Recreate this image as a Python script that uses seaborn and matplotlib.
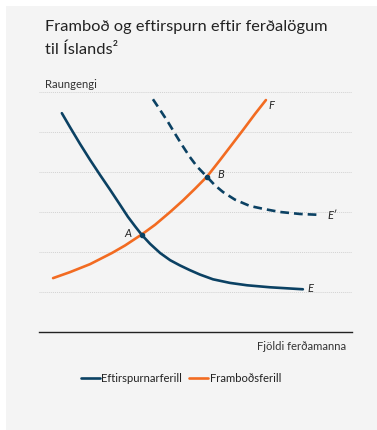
import matplotlib
matplotlib.use("Agg")
import matplotlib.pyplot as plt
from matplotlib.patches import Rectangle
from matplotlib.lines import Line2D
import seaborn as sns
import pandas as pd

demand_x = [0.73, 0.99, 1.31, 1.63, 1.95, 2.27, 2.59, 2.84, 3.07, 3.29, 3.55, 3.87,
            4.19, 4.50, 4.82, 5.14, 5.56, 6.10, 6.65, 7.38, 8.43]
demand_y = [5.48, 5.13, 4.71, 4.31, 3.93, 3.56, 3.18, 2.88, 2.64, 2.42, 2.20, 1.97,
            1.79, 1.66, 1.54, 1.43, 1.31, 1.22, 1.16, 1.11, 1.06]

supply_x = [0.45, 0.99, 1.63, 2.33, 2.75, 3.29, 3.71, 4.19, 4.60, 4.98, 5.37, 5.78,
            6.17, 6.52, 6.90, 7.25]
supply_y = [1.34, 1.49, 1.69, 1.97, 2.16, 2.44, 2.68, 3.00, 3.29, 3.58, 3.89, 4.30,
            4.70, 5.06, 5.46, 5.81]

shifted_x = [3.64, 3.87, 4.12, 4.35, 4.57, 4.82, 5.05, 5.37, 5.62, 5.88, 6.26, 6.74,
             7.22, 7.70, 8.34, 8.91]
shifted_y = [5.83, 5.56, 5.26, 4.96, 4.68, 4.38, 4.14, 3.88, 3.67, 3.50, 3.31, 3.15,
             3.07, 3.00, 2.95, 2.93]

point_labels = ["A", "B", "F", "E", "E\u2032"]
label_x = [2.94, 5.69, 7.32, 8.59, 9.20]
label_y = [2.45, 3.93, 5.68, 1.09, 2.90]

navy = "#0B4163"
orange = "#F26B21"

sns.set_style("white")
plt.rcParams["font.family"] = ["Lato", "DejaVu Sans"]

fig = plt.figure(figsize=(3.77, 4.30), dpi=100)
fig.patch.set_facecolor("white")
fig.add_artist(Rectangle((6 / 377, 0), 1, 1 - 6 / 430, transform=fig.transFigure,
                         facecolor="#F4F4F4", edgecolor="none", zorder=0))

ax = fig.add_axes([39 / 377, 98.5 / 430, 313 / 377, 247 / 430])
ax.set_facecolor("none")

demand = pd.DataFrame({"x": demand_x, "y": demand_y})
supply = pd.DataFrame({"x": supply_x, "y": supply_y})
shifted = pd.DataFrame({"x": shifted_x, "y": shifted_y})

sns.lineplot(data=demand, x="x", y="y", ax=ax, color=navy, linewidth=1.9, sort=False)
sns.lineplot(data=supply, x="x", y="y", ax=ax, color=orange, linewidth=1.9, sort=False)
sns.lineplot(data=shifted, x="x", y="y", ax=ax, color=navy, linewidth=1.9, sort=False,
             dashes=False, linestyle=(0, (3.3, 1.9)))

# intersection dots
ax.plot([demand_x[9], shifted_x[7]], [demand_y[9], shifted_y[7]], "o", color=navy,
        markersize=3, zorder=5)

for lab, lx, ly in zip(point_labels, label_x, label_y):
    ax.text(lx, ly, lab, ha="right" if lab == "A" else "left", va="center",
            fontsize=8, style="italic", color="#222222")

ax.set_xlim(0, 10)
ax.set_ylim(0, 6.2)
ax.set_yticks([1, 2, 3, 4, 5, 6])
ax.set_xticks([])
ax.tick_params(left=False, labelleft=False)
ax.yaxis.grid(True, color="#D2D2D2", linestyle=(0, (1, 1)), linewidth=0.7)
ax.set_xlabel("")
ax.set_ylabel("")
for side in ["top", "right", "left"]:
    ax.spines[side].set_visible(False)
ax.spines["bottom"].set_color("#222222")
ax.spines["bottom"].set_linewidth(1.0)

fig.text(45 / 377, 1 - 27 / 430, "Framboð og eftirspurn eftir ferðalögum",
         fontsize=11.8, va="center", ha="left", color="#222222")
fig.text(45 / 377, 1 - 50 / 430, "til Íslands²",
         fontsize=11.8, va="center", ha="left", color="#222222")
fig.text(45 / 377, 1 - 84 / 430, "Raungengi", fontsize=8.1, va="center",
         ha="left", color="#333333")
fig.text(346 / 377, 1 - 346 / 430, "Fjöldi ferðamanna", fontsize=8.1,
         va="center", ha="right", color="#333333")

handles = [Line2D([], [], color=navy, linewidth=1.9),
           Line2D([], [], color=orange, linewidth=1.9)]
fig.legend(handles, ["Eftirspurnarferill", "Framboðsferill"],
           loc="center", bbox_to_anchor=(181 / 377, 1 - 378 / 430), ncol=2,
           frameon=False, fontsize=8.1, handlelength=1.7, handletextpad=0.15,
           columnspacing=0.6, labelcolor="#222222")

fig.savefig("out.png", dpi=100, facecolor=fig.get_facecolor())
